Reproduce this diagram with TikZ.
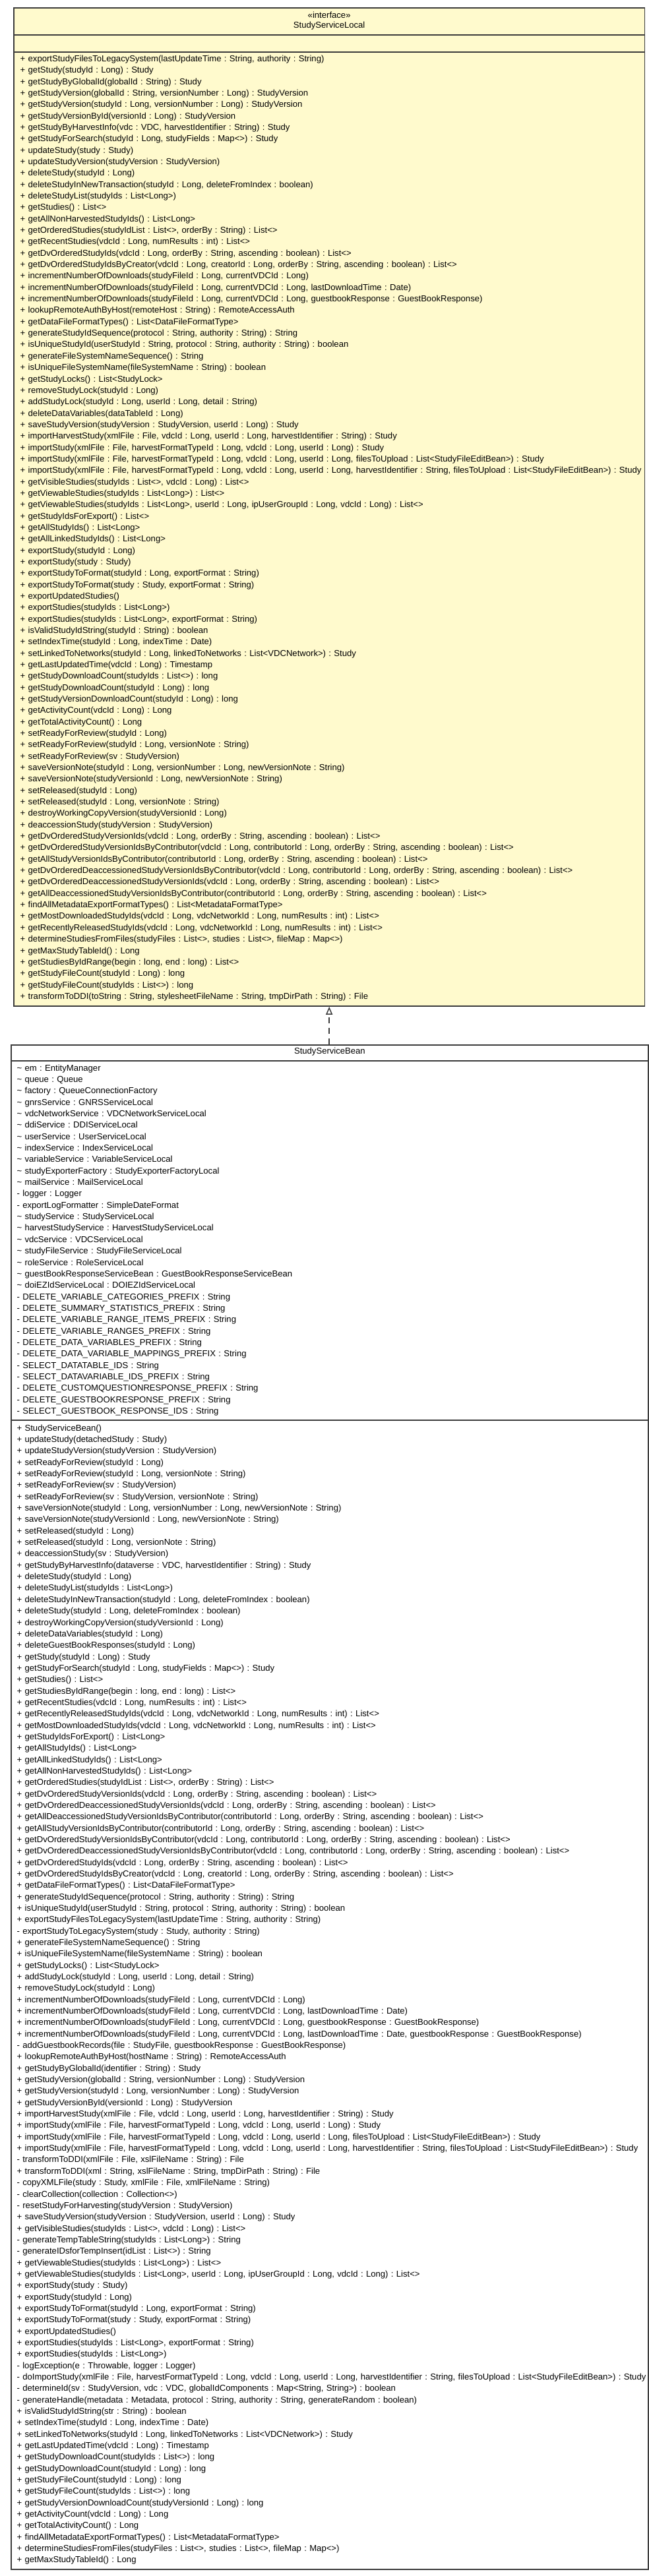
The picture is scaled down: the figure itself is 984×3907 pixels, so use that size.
\documentclass[tikz,border=0pt]{standalone}
\usepackage{fontspec}
\setmainfont{Liberation Sans}
\usetikzlibrary{arrows.meta}
\definecolor{localfill}{RGB}{255,250,205}
\definecolor{umlline}{RGB}{60,60,60}
\frenchspacing

\begin{document}
\begin{tikzpicture}[x=1pt,y=-1pt,
    classbox/.style={draw=umlline, line width=1.8pt, inner sep=0pt, anchor=north west},
    sepline/.style={draw=umlline, line width=1.8pt},
    umltext/.style={font=\fontsize{13.1pt}{17.34pt}\selectfont\frenchspacing, inner sep=0pt},
    members/.style={umltext, anchor=base west, text width=1100pt, align=left},
    realize/.style={draw=umlline, line width=1.5pt, dash pattern=on 9pt off 7pt,
        -{Triangle[open, length=12pt, width=10pt]}}]
    \fill[white] (0,0) rectangle (984,3907);
    \useasboundingbox (0,0) rectangle (984,3907);

    % interface
    \node[classbox, fill=localfill, minimum width=956.5pt, minimum height=1514pt] (local) at (20,11) {};
    \node[umltext] (localstereo) at (local.north |- 0,23) {«interface»};
    \node[umltext] (localname) at (local.north |- 0,39) {StudyServiceLocal};
    \draw[sepline] (local.west |- 0,53) -- (local.east |- 0,53);
    \draw[sepline] (local.west |- 0,79) -- (local.east |- 0,79);
    \node[members] (localops) at (30.5,93.5) {%
+ exportStudyFilesToLegacySystem(lastUpdateTime : String, authority : String)\\
+ getStudy(studyId : Long) : Study\\
+ getStudyByGlobalId(globalId : String) : Study\\
+ getStudyVersion(globalId : String, versionNumber : Long) : StudyVersion\\
+ getStudyVersion(studyId : Long, versionNumber : Long) : StudyVersion\\
+ getStudyVersionById(versionId : Long) : StudyVersion\\
+ getStudyByHarvestInfo(vdc : VDC, harvestIdentifier : String) : Study\\
+ getStudyForSearch(studyId : Long, studyFields : Map<>) : Study\\
+ updateStudy(study : Study)\\
+ updateStudyVersion(studyVersion : StudyVersion)\\
+ deleteStudy(studyId : Long)\\
+ deleteStudyInNewTransaction(studyId : Long, deleteFromIndex : boolean)\\
+ deleteStudyList(studyIds : List<Long>)\\
+ getStudies() : List<>\\
+ getAllNonHarvestedStudyIds() : List<Long>\\
+ getOrderedStudies(studyIdList : List<>, orderBy : String) : List<>\\
+ getRecentStudies(vdcId : Long, numResults : int) : List<>\\
+ getDvOrderedStudyIds(vdcId : Long, orderBy : String, ascending : boolean) : List<>\\
+ getDvOrderedStudyIdsByCreator(vdcId : Long, creatorId : Long, orderBy : String, ascending : boolean) : List<>\\
+ incrementNumberOfDownloads(studyFileId : Long, currentVDCId : Long)\\
+ incrementNumberOfDownloads(studyFileId : Long, currentVDCId : Long, lastDownloadTime : Date)\\
+ incrementNumberOfDownloads(studyFileId : Long, currentVDCId : Long, guestbookResponse : GuestBookResponse)\\
+ lookupRemoteAuthByHost(remoteHost : String) : RemoteAccessAuth\\
+ getDataFileFormatTypes() : List<DataFileFormatType>\\
+ generateStudyIdSequence(protocol : String, authority : String) : String\\
+ isUniqueStudyId(userStudyId : String, protocol : String, authority : String) : boolean\\
+ generateFileSystemNameSequence() : String\\
+ isUniqueFileSystemName(fileSystemName : String) : boolean\\
+ getStudyLocks() : List<StudyLock>\\
+ removeStudyLock(studyId : Long)\\
+ addStudyLock(studyId : Long, userId : Long, detail : String)\\
+ deleteDataVariables(dataTableId : Long)\\
+ saveStudyVersion(studyVersion : StudyVersion, userId : Long) : Study\\
+ importHarvestStudy(xmlFile : File, vdcId : Long, userId : Long, harvestIdentifier : String) : Study\\
+ importStudy(xmlFile : File, harvestFormatTypeId : Long, vdcId : Long, userId : Long) : Study\\
+ importStudy(xmlFile : File, harvestFormatTypeId : Long, vdcId : Long, userId : Long, filesToUpload : List<StudyFileEditBean>) : Study\\
+ importStudy(xmlFile : File, harvestFormatTypeId : Long, vdcId : Long, userId : Long, harvestIdentifier : String, filesToUpload : List<StudyFileEditBean>) : Study\\
+ getVisibleStudies(studyIds : List<>, vdcId : Long) : List<>\\
+ getViewableStudies(studyIds : List<Long>) : List<>\\
+ getViewableStudies(studyIds : List<Long>, userId : Long, ipUserGroupId : Long, vdcId : Long) : List<>\\
+ getStudyIdsForExport() : List<>\\
+ getAllStudyIds() : List<Long>\\
+ getAllLinkedStudyIds() : List<Long>\\
+ exportStudy(studyId : Long)\\
+ exportStudy(study : Study)\\
+ exportStudyToFormat(studyId : Long, exportFormat : String)\\
+ exportStudyToFormat(study : Study, exportFormat : String)\\
+ exportUpdatedStudies()\\
+ exportStudies(studyIds : List<Long>)\\
+ exportStudies(studyIds : List<Long>, exportFormat : String)\\
+ isValidStudyIdString(studyId : String) : boolean\\
+ setIndexTime(studyId : Long, indexTime : Date)\\
+ setLinkedToNetworks(studyId : Long, linkedToNetworks : List<VDCNetwork>) : Study\\
+ getLastUpdatedTime(vdcId : Long) : Timestamp\\
+ getStudyDownloadCount(studyIds : List<>) : long\\
+ getStudyDownloadCount(studyId : Long) : long\\
+ getStudyVersionDownloadCount(studyId : Long) : long\\
+ getActivityCount(vdcId : Long) : Long\\
+ getTotalActivityCount() : Long\\
+ setReadyForReview(studyId : Long)\\
+ setReadyForReview(studyId : Long, versionNote : String)\\
+ setReadyForReview(sv : StudyVersion)\\
+ saveVersionNote(studyId : Long, versionNumber : Long, newVersionNote : String)\\
+ saveVersionNote(studyVersionId : Long, newVersionNote : String)\\
+ setReleased(studyId : Long)\\
+ setReleased(studyId : Long, versionNote : String)\\
+ destroyWorkingCopyVersion(studyVersionId : Long)\\
+ deaccessionStudy(studyVersion : StudyVersion)\\
+ getDvOrderedStudyVersionIds(vdcId : Long, orderBy : String, ascending : boolean) : List<>\\
+ getDvOrderedStudyVersionIdsByContributor(vdcId : Long, contributorId : Long, orderBy : String, ascending : boolean) : List<>\\
+ getAllStudyVersionIdsByContributor(contributorId : Long, orderBy : String, ascending : boolean) : List<>\\
+ getDvOrderedDeaccessionedStudyVersionIdsByContributor(vdcId : Long, contributorId : Long, orderBy : String, ascending : boolean) : List<>\\
+ getDvOrderedDeaccessionedStudyVersionIds(vdcId : Long, orderBy : String, ascending : boolean) : List<>\\
+ getAllDeaccessionedStudyVersionIdsByContributor(contributorId : Long, orderBy : String, ascending : boolean) : List<>\\
+ findAllMetadataExportFormatTypes() : List<MetadataFormatType>\\
+ getMostDownloadedStudyIds(vdcId : Long, vdcNetworkId : Long, numResults : int) : List<>\\
+ getRecentlyReleasedStudyIds(vdcId : Long, vdcNetworkId : Long, numResults : int) : List<>\\
+ determineStudiesFromFiles(studyFiles : List<>, studies : List<>, fileMap : Map<>)\\
+ getMaxStudyTableId() : Long\\
+ getStudiesByIdRange(begin : long, end : long) : List<>\\
+ getStudyFileCount(studyId : Long) : long\\
+ getStudyFileCount(studyIds : List<>) : long\\
+ transformToDDI(toString : String, stylesheetFileName : String, tmpDirPath : String) : File};

    % implementing bean
    \node[classbox, fill=white, minimum width=966pt, minimum height=2311.7pt] (bean) at (16,1584) {};
    \node[umltext] (beanname) at (bean.north |- 0,1595.3) {StudyServiceBean};
    \draw[sepline] (bean.west |- 0,1609) -- (bean.east |- 0,1609);
    \draw[sepline] (bean.west |- 0,2154) -- (bean.east |- 0,2154);
    \node[members] (beanattrs) at (25.4,1624.2) {%
\textasciitilde{} em : EntityManager\\
\textasciitilde{} queue : Queue\\
\textasciitilde{} factory : QueueConnectionFactory\\
\textasciitilde{} gnrsService : GNRSServiceLocal\\
\textasciitilde{} vdcNetworkService : VDCNetworkServiceLocal\\
\textasciitilde{} ddiService : DDIServiceLocal\\
\textasciitilde{} userService : UserServiceLocal\\
\textasciitilde{} indexService : IndexServiceLocal\\
\textasciitilde{} variableService : VariableServiceLocal\\
\textasciitilde{} studyExporterFactory : StudyExporterFactoryLocal\\
\textasciitilde{} mailService : MailServiceLocal\\
- logger : Logger\\
- exportLogFormatter : SimpleDateFormat\\
\textasciitilde{} studyService : StudyServiceLocal\\
\textasciitilde{} harvestStudyService : HarvestStudyServiceLocal\\
\textasciitilde{} vdcService : VDCServiceLocal\\
\textasciitilde{} studyFileService : StudyFileServiceLocal\\
\textasciitilde{} roleService : RoleServiceLocal\\
\textasciitilde{} guestBookResponseServiceBean : GuestBookResponseServiceBean\\
\textasciitilde{} doiEZIdServiceLocal : DOIEZIdServiceLocal\\
- DELETE\_VARIABLE\_CATEGORIES\_PREFIX : String\\
- DELETE\_SUMMARY\_STATISTICS\_PREFIX : String\\
- DELETE\_VARIABLE\_RANGE\_ITEMS\_PREFIX : String\\
- DELETE\_VARIABLE\_RANGES\_PREFIX : String\\
- DELETE\_DATA\_VARIABLES\_PREFIX : String\\
- DELETE\_DATA\_VARIABLE\_MAPPINGS\_PREFIX : String\\
- SELECT\_DATATABLE\_IDS : String\\
- SELECT\_DATAVARIABLE\_IDS\_PREFIX : String\\
- DELETE\_CUSTOMQUESTIONRESPONSE\_PREFIX : String\\
- DELETE\_GUESTBOOKRESPONSE\_PREFIX : String\\
- SELECT\_GUESTBOOK\_RESPONSE\_IDS : String};
    \node[members] (beanops) at (25.4,2170.2) {%
+ StudyServiceBean()\\
+ updateStudy(detachedStudy : Study)\\
+ updateStudyVersion(studyVersion : StudyVersion)\\
+ setReadyForReview(studyId : Long)\\
+ setReadyForReview(studyId : Long, versionNote : String)\\
+ setReadyForReview(sv : StudyVersion)\\
+ setReadyForReview(sv : StudyVersion, versionNote : String)\\
+ saveVersionNote(studyId : Long, versionNumber : Long, newVersionNote : String)\\
+ saveVersionNote(studyVersionId : Long, newVersionNote : String)\\
+ setReleased(studyId : Long)\\
+ setReleased(studyId : Long, versionNote : String)\\
+ deaccessionStudy(sv : StudyVersion)\\
+ getStudyByHarvestInfo(dataverse : VDC, harvestIdentifier : String) : Study\\
+ deleteStudy(studyId : Long)\\
+ deleteStudyList(studyIds : List<Long>)\\
+ deleteStudyInNewTransaction(studyId : Long, deleteFromIndex : boolean)\\
+ deleteStudy(studyId : Long, deleteFromIndex : boolean)\\
+ destroyWorkingCopyVersion(studyVersionId : Long)\\
+ deleteDataVariables(studyId : Long)\\
+ deleteGuestBookResponses(studyId : Long)\\
+ getStudy(studyId : Long) : Study\\
+ getStudyForSearch(studyId : Long, studyFields : Map<>) : Study\\
+ getStudies() : List<>\\
+ getStudiesByIdRange(begin : long, end : long) : List<>\\
+ getRecentStudies(vdcId : Long, numResults : int) : List<>\\
+ getRecentlyReleasedStudyIds(vdcId : Long, vdcNetworkId : Long, numResults : int) : List<>\\
+ getMostDownloadedStudyIds(vdcId : Long, vdcNetworkId : Long, numResults : int) : List<>\\
+ getStudyIdsForExport() : List<Long>\\
+ getAllStudyIds() : List<Long>\\
+ getAllLinkedStudyIds() : List<Long>\\
+ getAllNonHarvestedStudyIds() : List<Long>\\
+ getOrderedStudies(studyIdList : List<>, orderBy : String) : List<>\\
+ getDvOrderedStudyVersionIds(vdcId : Long, orderBy : String, ascending : boolean) : List<>\\
+ getDvOrderedDeaccessionedStudyVersionIds(vdcId : Long, orderBy : String, ascending : boolean) : List<>\\
+ getAllDeaccessionedStudyVersionIdsByContributor(contributorId : Long, orderBy : String, ascending : boolean) : List<>\\
+ getAllStudyVersionIdsByContributor(contributorId : Long, orderBy : String, ascending : boolean) : List<>\\
+ getDvOrderedStudyVersionIdsByContributor(vdcId : Long, contributorId : Long, orderBy : String, ascending : boolean) : List<>\\
+ getDvOrderedDeaccessionedStudyVersionIdsByContributor(vdcId : Long, contributorId : Long, orderBy : String, ascending : boolean) : List<>\\
+ getDvOrderedStudyIds(vdcId : Long, orderBy : String, ascending : boolean) : List<>\\
+ getDvOrderedStudyIdsByCreator(vdcId : Long, creatorId : Long, orderBy : String, ascending : boolean) : List<>\\
+ getDataFileFormatTypes() : List<DataFileFormatType>\\
+ generateStudyIdSequence(protocol : String, authority : String) : String\\
+ isUniqueStudyId(userStudyId : String, protocol : String, authority : String) : boolean\\
+ exportStudyFilesToLegacySystem(lastUpdateTime : String, authority : String)\\
- exportStudyToLegacySystem(study : Study, authority : String)\\
+ generateFileSystemNameSequence() : String\\
+ isUniqueFileSystemName(fileSystemName : String) : boolean\\
+ getStudyLocks() : List<StudyLock>\\
+ addStudyLock(studyId : Long, userId : Long, detail : String)\\
+ removeStudyLock(studyId : Long)\\
+ incrementNumberOfDownloads(studyFileId : Long, currentVDCId : Long)\\
+ incrementNumberOfDownloads(studyFileId : Long, currentVDCId : Long, lastDownloadTime : Date)\\
+ incrementNumberOfDownloads(studyFileId : Long, currentVDCId : Long, guestbookResponse : GuestBookResponse)\\
+ incrementNumberOfDownloads(studyFileId : Long, currentVDCId : Long, lastDownloadTime : Date, guestbookResponse : GuestBookResponse)\\
- addGuestbookRecords(file : StudyFile, guestbookResponse : GuestBookResponse)\\
+ lookupRemoteAuthByHost(hostName : String) : RemoteAccessAuth\\
+ getStudyByGlobalId(identifier : String) : Study\\
+ getStudyVersion(globalId : String, versionNumber : Long) : StudyVersion\\
+ getStudyVersion(studyId : Long, versionNumber : Long) : StudyVersion\\
+ getStudyVersionById(versionId : Long) : StudyVersion\\
+ importHarvestStudy(xmlFile : File, vdcId : Long, userId : Long, harvestIdentifier : String) : Study\\
+ importStudy(xmlFile : File, harvestFormatTypeId : Long, vdcId : Long, userId : Long) : Study\\
+ importStudy(xmlFile : File, harvestFormatTypeId : Long, vdcId : Long, userId : Long, filesToUpload : List<StudyFileEditBean>) : Study\\
+ importStudy(xmlFile : File, harvestFormatTypeId : Long, vdcId : Long, userId : Long, harvestIdentifier : String, filesToUpload : List<StudyFileEditBean>) : Study\\
- transformToDDI(xmlFile : File, xslFileName : String) : File\\
+ transformToDDI(xml : String, xslFileName : String, tmpDirPath : String) : File\\
- copyXMLFile(study : Study, xmlFile : File, xmlFileName : String)\\
- clearCollection(collection : Collection<>)\\
- resetStudyForHarvesting(studyVersion : StudyVersion)\\
+ saveStudyVersion(studyVersion : StudyVersion, userId : Long) : Study\\
+ getVisibleStudies(studyIds : List<>, vdcId : Long) : List<>\\
- generateTempTableString(studyIds : List<Long>) : String\\
- generateIDsforTempInsert(idList : List<>) : String\\
+ getViewableStudies(studyIds : List<Long>) : List<>\\
+ getViewableStudies(studyIds : List<Long>, userId : Long, ipUserGroupId : Long, vdcId : Long) : List<>\\
+ exportStudy(study : Study)\\
+ exportStudy(studyId : Long)\\
+ exportStudyToFormat(studyId : Long, exportFormat : String)\\
+ exportStudyToFormat(study : Study, exportFormat : String)\\
+ exportUpdatedStudies()\\
+ exportStudies(studyIds : List<Long>, exportFormat : String)\\
+ exportStudies(studyIds : List<Long>)\\
- logException(e : Throwable, logger : Logger)\\
- doImportStudy(xmlFile : File, harvestFormatTypeId : Long, vdcId : Long, userId : Long, harvestIdentifier : String, filesToUpload : List<StudyFileEditBean>) : Study\\
- determineId(sv : StudyVersion, vdc : VDC, globalIdComponents : Map<String, String>) : boolean\\
- generateHandle(metadata : Metadata, protocol : String, authority : String, generateRandom : boolean)\\
+ isValidStudyIdString(str : String) : boolean\\
+ setIndexTime(studyId : Long, indexTime : Date)\\
+ setLinkedToNetworks(studyId : Long, linkedToNetworks : List<VDCNetwork>) : Study\\
+ getLastUpdatedTime(vdcId : Long) : Timestamp\\
+ getStudyDownloadCount(studyIds : List<>) : long\\
+ getStudyDownloadCount(studyId : Long) : long\\
+ getStudyFileCount(studyId : Long) : long\\
+ getStudyFileCount(studyIds : List<>) : long\\
+ getStudyVersionDownloadCount(studyVersionId : Long) : long\\
+ getActivityCount(vdcId : Long) : Long\\
+ getTotalActivityCount() : Long\\
+ findAllMetadataExportFormatTypes() : List<MetadataFormatType>\\
+ determineStudiesFromFiles(studyFiles : List<>, studies : List<>, fileMap : Map<>)\\
+ getMaxStudyTableId() : Long};

    % realization
    \draw[realize] (local.south |- bean.north) -- (local.south);
\end{tikzpicture}
\end{document}
